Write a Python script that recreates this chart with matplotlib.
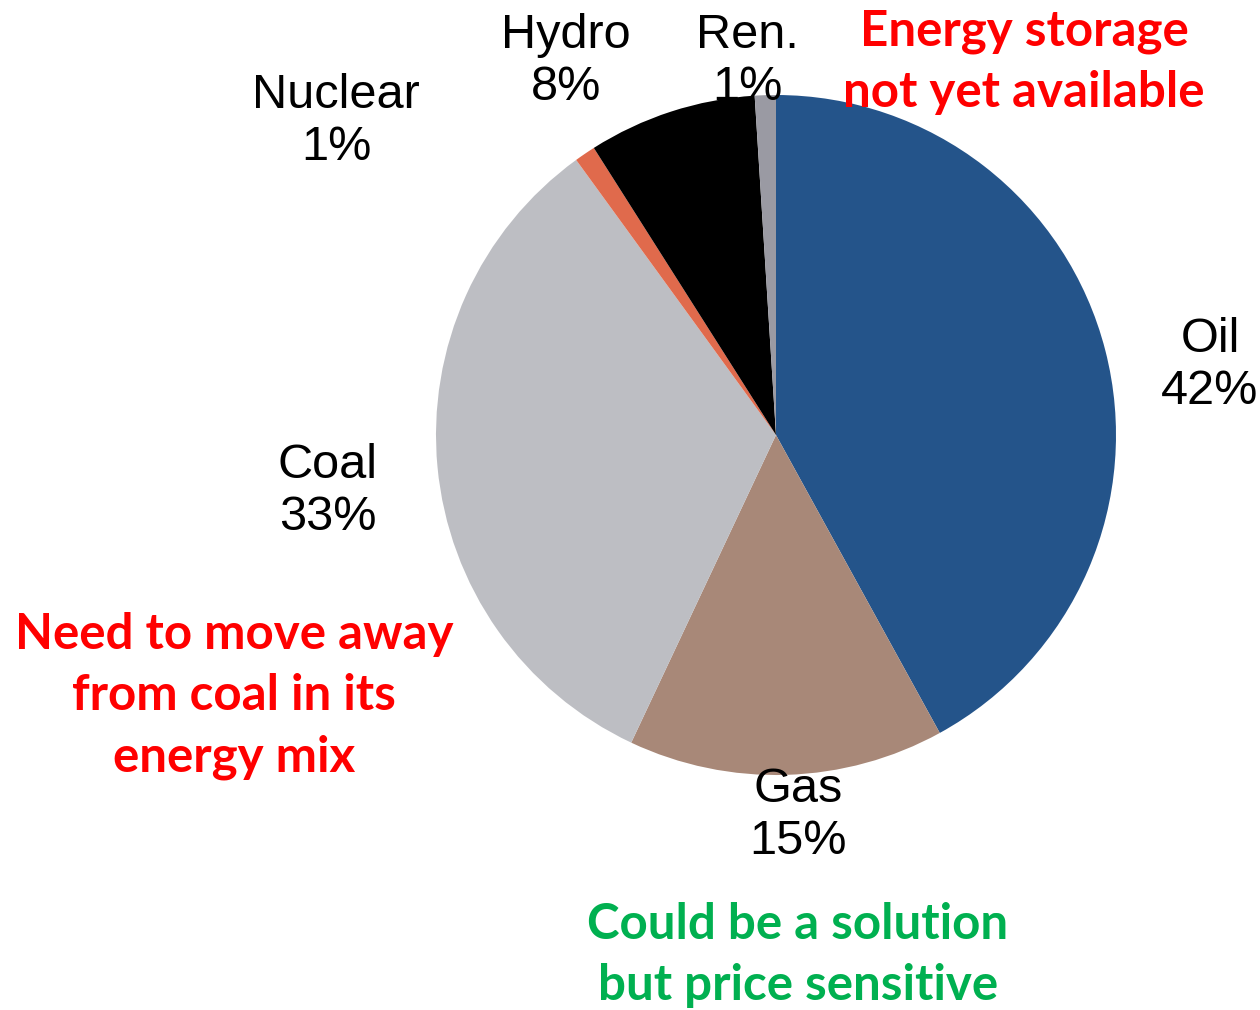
import matplotlib.pyplot as plt

# energy mix shares, clockwise from 12 o'clock
sources = ["Oil", "Gas", "Coal", "Nuclear", "Hydro", "Ren."]
shares = [42, 15, 33, 1, 8, 1]
colors = ["#24548a", "#a88878", "#bdbec3", "#e06a4c", "#000000", "#9a9aa3"]

# label positions in pixel coords (x, y from top)
label_pos = {
    "Oil": (1210, 365),
    "Gas": (798, 816),
    "Coal": (328, 492),
    "Nuclear": (336, 122),
    "Hydro": (566, 62),
    "Ren.": (747, 62),
}

notes = [
    ("Energy storage\nnot yet available", (1024, 62), "#ff0000"),
    ("Need to move away\nfrom coal in its\nenergy mix", (234, 696), "#ff0000"),
    ("Could be a solution\nbut price sensitive", (798, 955), "#00b050"),
]

W, H = 1260, 1010
fig = plt.figure(figsize=(W / 100, H / 100), dpi=100)
ax = fig.add_axes([0, 0, 1, 1])
ax.axis("off")

ax.pie(shares, colors=colors, startangle=90, counterclock=False,
       center=(776, H - 435), radius=340,
       wedgeprops=dict(linewidth=0))
ax.set_xlim(0, W)
ax.set_ylim(0, H)
ax.set_aspect("equal")

for name, share in zip(sources, shares):
    x, y = label_pos[name]
    ax.text(x, H - y, f"{name}\n{share}%", ha="center", va="center",
            fontsize=35, family="Liberation Sans", linespacing=1.2,
            color="black", zorder=5)

for txt, (x, y), c in notes:
    ax.text(x, H - y, txt, ha="center", va="center", fontsize=35.5,
            family="Lato", fontweight="bold", color=c, linespacing=1.44,
            zorder=5)

fig.savefig("out.png", dpi=100)
